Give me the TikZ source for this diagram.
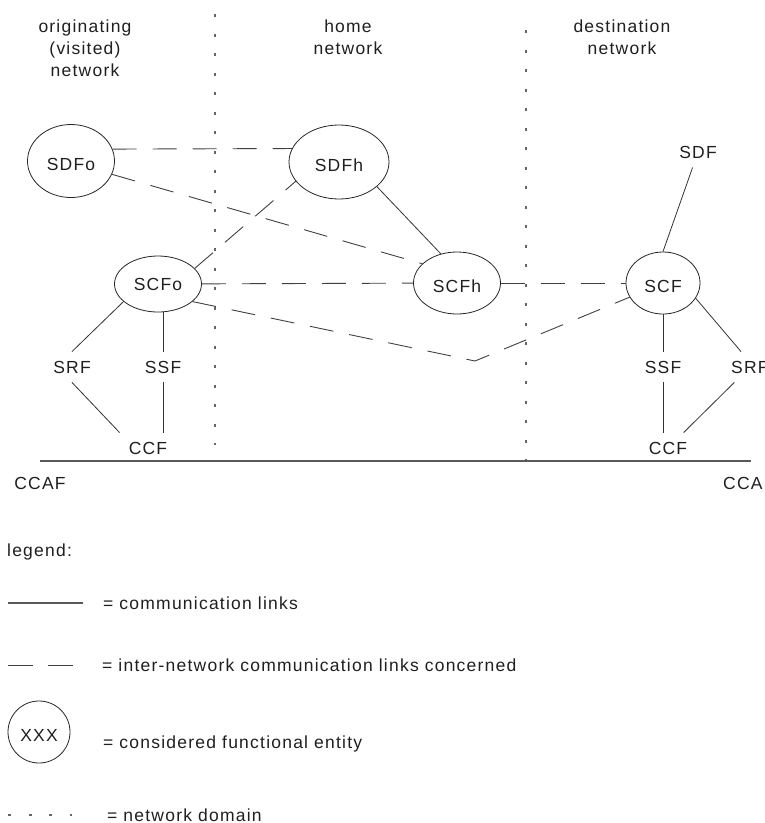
\documentclass[tikz,border=0pt]{standalone}
\usepackage{fontspec}
\setmainfont{Liberation Sans}[LetterSpace=7]
\usetikzlibrary{shapes.geometric}
\begin{document}
\begin{tikzpicture}[x=1pt,y=-1pt,
  every node/.style={font=\fontsize{17.5}{22}\selectfont, text=black!88},
  lbl/.style={inner sep=9pt, text height=12.5pt, text depth=0pt},
  fe/.style={ellipse, draw=black!85, line width=0.8pt, inner sep=0pt,
             text height=18.5pt, text depth=0pt},
  link/.style={draw=black!80, line width=0.8pt},
  inter/.style={draw=black!75, line width=0.9pt, dash pattern=on 24pt off 16pt},
  netborder/.style={draw=black!60, line width=1.3pt, dash pattern=on 3pt off 16.5pt},
  ccafline/.style={draw=black!65, line width=1.4pt}]
\useasboundingbox (0,0) rectangle (765,823);

% network domain headings
\node[align=center] (orig) at (85,48) {originating\\(visited)\\network};
\node[align=center] (home) at (348,37) {home\\network};
\node[align=center] (dest) at (622,37) {destination\\network};

% network domain borders
\coordinate (d1t) at (215,14);
\coordinate (d1b) at (215,445);
\coordinate (d2t) at (526,30);
\coordinate (d2b) at (526,461);
\draw[netborder] (d1t) -- (d1b);
\draw[netborder] (d2t) -- (d2b);

% CCAF boundary
\coordinate (bl) at (40,461);
\coordinate (br) at (751,461);
\draw[ccafline] (bl) -- (br);

% functional entities
\node[fe, minimum width=87pt, minimum height=73pt] (SDFo) at (71,161) {SDFo};
\node[fe, minimum width=100pt, minimum height=74pt] (SDFh) at (339,162) {SDFh};
\node[fe, minimum width=87pt, minimum height=56pt, text height=13pt] (SCFo) at (158,284) {SCFo};
\node[fe, minimum width=87pt, minimum height=62pt] (SCFh) at (457,283) {SCFh};
\node[fe, minimum width=74pt, minimum height=62pt] (SCF) at (663,283) {SCF};

\node[lbl] (SRFo) at (72,367) {SRF};
\node[lbl] (SSFo) at (163,367) {SSF};
\node[lbl] (CCFo) at (148,448) {CCF};
\node[lbl] (SDF) at (698,152) {SDF};
\node[lbl] (SSFd) at (663,367) {SSF};
\node[lbl, anchor=west] (SRFd) at (722,367) {SRF};
\node[lbl] (CCFd) at (668,448) {CCF};
\node[lbl] (CCAFo) at (40,483) {CCAF};
\node[lbl, anchor=west] (CCAFd) at (714,483) {CCAF};

% communication links
\draw[link] (SCFo.207) -- (SRFo.north);
\draw[link] (SSFo.north) -- (SSFo.north |- SCFo.south);
\draw[link] (SRFo.south) -- (CCFo.north west);
\draw[link] (SSFo.south) -- (SSFo.south |- CCFo.north);
\draw[link] (SDFh.327) -- (SCFh.119);
\draw[link] (SCF.north) -- (SDF);
\draw[link] (SCF) -- (SSFd);
\draw[link] (SCF.335) -- (SRFd.120);
\draw[link] (SSFd.south) -- (SSFd.south |- CCFd.north);
\draw[link] (SRFd) -- (CCFd);

% inter-network links
\coordinate (kink) at (475,361);
\draw[inter] (SDFo.16) -- (SDFh.164);
\draw[inter] (SDFo.342) -- (SCFh.151);
\draw[inter] (SCFo.23) -- (SDFh.204);
\draw[inter] (SCFo) -- (SCFh);
\draw[inter] (SCFh) -- (SCF);
\draw[inter] (SCFo.333) -- (kink) -- (SCF.203);

% legend
\node[lbl, anchor=west] (leg) at (-2,550) {legend:};
\coordinate (l1a) at (8,603);
\coordinate (l1b) at (83,603);
\draw[ccafline] (l1a) -- (l1b);
\node[lbl, anchor=west] (t1) at (94,603) {= communication links};
\coordinate (l2a) at (8,665);
\coordinate (l2b) at (73,665);
\draw[inter, dash pattern=on 25pt off 15pt] (l2a) -- (l2b);
\node[lbl, anchor=west] (t2) at (93,665) {= inter-network communication links concerned};
\node[fe, minimum size=62pt] (xxx) at (39,732) {XXX};
\node[lbl, anchor=west] (t3) at (94,742) {= considered functional entity};
\coordinate (l4a) at (8,815);
\coordinate (l4b) at (72,815);
\draw[netborder, dash pattern=on 3pt off 17.5pt] (l4a) -- (l4b);
\node[lbl, anchor=west, inner ysep=4pt] (t4) at (98,815) {= network domain};
\end{tikzpicture}
\end{document}
